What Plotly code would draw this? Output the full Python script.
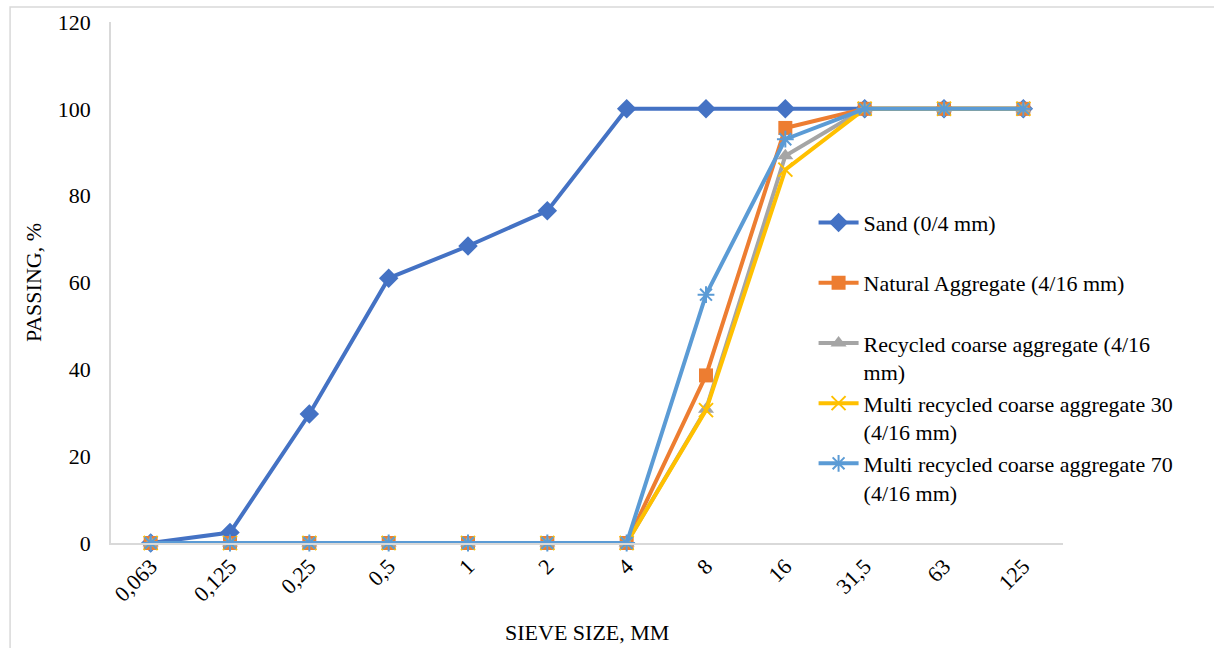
import plotly.graph_objects as go

# Sieve sizes (mm) as category labels
sieve_sizes = ["0,063", "0,125", "0,25", "0,5", "1", "2", "4", "8", "16", "31,5", "63", "125"]

# Cumulative passing (%) per material
sand = [0, 2.4, 29.7, 61.0, 68.4, 76.5, 100, 100, 100, 100, 100, 100]
natural_agg = [0, 0, 0, 0, 0, 0, 0, 38.6, 95.6, 100, 100, 100]
recycled_agg = [0, 0, 0, 0, 0, 0, 0, 30.8, 89.2, 100, 100, 100]
multi_rec_30 = [0, 0, 0, 0, 0, 0, 0, 30.6, 86.0, 100, 100, 100]
multi_rec_70 = [0, 0, 0, 0, 0, 0, 0, 57.2, 93.0, 100, 100, 100]

FONT = "Liberation Serif, Times New Roman, serif"

series = [
    ("Sand (0/4 mm)<br> ", sand, "#4472C4", "diamond", 15),
    ("Natural Aggregate (4/16 mm)<br> ", natural_agg, "#ED7D31", "square", 14),
    ("Recycled coarse aggregate (4/16<br>mm)", recycled_agg, "#A5A5A5", "triangle-up", 14),
    ("Multi recycled coarse aggregate 30<br>(4/16 mm)", multi_rec_30, "#FFC000", "x-thin", 14),
    ("Multi recycled coarse aggregate 70<br>(4/16 mm)", multi_rec_70, "#5B9BD5", "asterisk", 14),
]

fig = go.Figure()
for name, vals, color, symbol, size in series:
    thin = symbol in ("x-thin", "asterisk")
    fig.add_trace(go.Scatter(
        x=sieve_sizes, y=vals, name=name, mode="lines+markers",
        cliponaxis=False,
        line=dict(color=color, width=4),
        marker=dict(symbol=symbol, size=size, color=color,
                    line=dict(color=color, width=2 if thin else 0)),
    ))

fig.update_layout(
    width=1214, height=648,
    margin=dict(l=111, r=151, t=22, b=105),
    paper_bgcolor="white", plot_bgcolor="white",
    font=dict(family=FONT, size=22, color="#000000"),
    showlegend=True,
    legend=dict(
        x=0.738, y=0.655, xanchor="left", yanchor="top",
        bgcolor="rgba(0,0,0,0)", valign="top",
        font=dict(family=FONT, size=22, color="#000000"),
        tracegroupgap=0, itemwidth=40,
    ),
    xaxis=dict(
        type="category", range=[-0.5, 11.5], automargin=False,
        showgrid=False, zeroline=False,
        showline=True, linecolor="#D9D9D9", linewidth=1.5,
        ticks="", tickangle=-45, tickfont=dict(size=22),
    ),
    yaxis=dict(
        range=[0, 120], dtick=20, showgrid=False, zeroline=False,
        showline=True, linecolor="#D9D9D9", linewidth=1.5, automargin=False,
        ticks="", ticklabelstandoff=14, tickfont=dict(size=22),
        title=dict(text="PASSING, %", font=dict(size=22), standoff=10),
    ),
    annotations=[dict(
        text="SIEVE SIZE, MM", xref="paper", yref="paper",
        x=0.5, y=-0.1727, xanchor="center", yanchor="middle",
        showarrow=False, font=dict(family=FONT, size=22, color="#000000"),
    )],
    shapes=[dict(
        type="rect", xref="paper", yref="paper",
        x0=-0.106, x1=1.3, y0=-0.4, y1=1.029,
        line=dict(color="#D9D9D9", width=1.5), layer="below",
    )],
)

fig.write_html("out.html")
